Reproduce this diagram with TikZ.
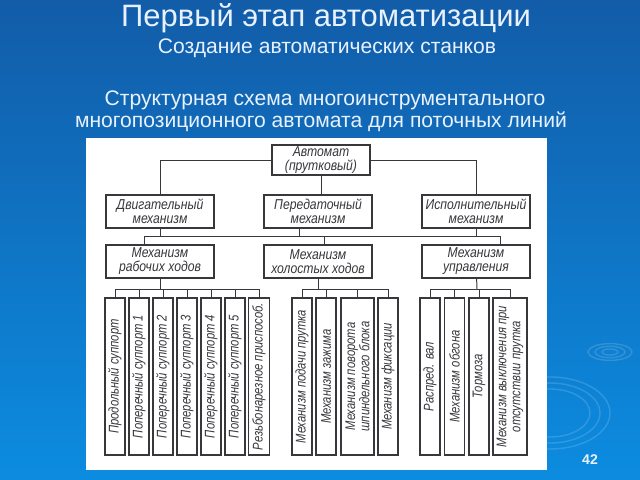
\documentclass[tikz,border=0pt]{standalone}
\usepackage{fontspec}
\setmainfont{Liberation Sans}
\newfontfamily\schemefont[FakeStretch=0.85]{Liberation Sans}
\newfontfamily\leaffont[FakeStretch=0.8]{Liberation Sans}
\definecolor{bgtop}{RGB}{18,92,168}
\definecolor{bgmid}{RGB}{10,102,178}
\definecolor{bgbot}{RGB}{12,140,224}
\definecolor{titlecol}{RGB}{232,242,255}
\definecolor{linecol}{RGB}{55,55,60}

\begin{document}
\begin{tikzpicture}[x=0.025cm,y=-0.025cm,
    box/.style={draw=linecol,line width=0.8pt,fill=white,text=linecol,
      font=\schemefont\itshape\fontsize{10.2}{10}\selectfont,align=center,
      minimum width=2.7cm,minimum height=0.825cm,inner sep=1pt},
    leaf/.style={box,rotate=90,minimum width=3.925cm,
      font=\leaffont\itshape\fontsize{10}{10}\selectfont},
    wire/.style={draw=linecol,line width=0.7pt},
    heading/.style={text=titlecol,anchor=base}]

    % background of the slide
    \shade[top color=bgtop,middle color=bgmid,bottom color=bgbot] (0,0) rectangle (640,480);
    \useasboundingbox (0,0) rectangle (640,480);
    \begin{scope}[white,opacity=0.15,line width=1pt]
        \foreach \r in {8,15,22}
            \draw (610,352) ellipse ({\r} and {\r*0.38});
        \foreach \r in {40,50,60}
            \draw (550,413) ellipse ({\r} and {\r*0.6});
    \end{scope}
    \fill[white] (86,138) rectangle (547,470);

    % headings
    \node[heading,font=\fontsize{22}{24}\selectfont] (title) at (326,27) {Первый этап автоматизации};
    \node[heading,font=\fontsize{15}{17}\selectfont] (subtitle) at (327,54) {Создание автоматических станков};
    \node[heading,font=\fontsize{15}{17}\selectfont] (line1) at (325,105) {Структурная схема многоинструментального};
    \node[heading,font=\fontsize{15}{17}\selectfont] (line2) at (321,128) {многопозиционного автомата для поточных линий};
    \node[text=titlecol,font=\bfseries\fontsize{10}{12}\selectfont] (page) at (590,460) {42};

    % upper levels
    \node[box,minimum width=2.45cm,minimum height=0.75cm] (avt) at (321,160) {Автомат\\(прутковый)};
    \node[box] (dvig) at (160,211.5) {Двигательный\\механизм};
    \node[box] (pered) at (318,211.5) {Передаточный\\механизм};
    \node[box] (isp) at (476,211.5) {Исполнительный\\механизм};
    \node[box] (rab) at (160,261.5) {Механизм\\рабочих ходов};
    \node[box] (hol) at (318,261.5) {Механизм\\холостых ходов};
    \node[box] (upr) at (476,261.5) {Механизм\\управления};

    \draw[wire] (avt) -| (dvig);
    \draw[wire] (avt) -| (isp);
    \draw[wire] (avt.south) -- (avt.south |- pered.north);

    \coordinate (busl) at (144,236);
    \coordinate (busr) at (500,236);
    \coordinate (pj) at (299,236);
    \coordinate (hj) at (324,236);
    \draw[wire] (busl) -- (busr);
    \draw[wire] (dvig) -- (dvig |- busl);
    \draw[wire] (pj) -- (pj |- pered.south);
    \draw[wire] (isp) -- (isp |- busl);
    \draw[wire] (busl) -- (busl |- rab.north);
    \draw[wire] (hj) -- (hj |- hol.north);
    \draw[wire] (busr) -- (busr |- upr.north);

    % working strokes
    \coordinate (rb) at (160,289);
    \foreach \x/\w/\t [count=\i] in {115/0.5/{Продольный суппорт},
        139/0.5/{Поперечный суппорт 1}, 163/0.5/{Поперечный суппорт 2},
        187/0.5/{Поперечный суппорт 3}, 211/0.5/{Поперечный суппорт 4},
        235/0.5/{Поперечный суппорт 5}, 259/0.525/{Резьбонарезное приспособ.}}
        \node[leaf,minimum height=\w cm] (rab\i) at (\x,376.5) {\t};
    \draw[wire] (rab) -- (rb);
    \draw[wire] (rab1 |- rb) -- (rab7 |- rb);
    \foreach \i in {1,...,7}
        \draw[wire] (rab\i |- rb) -- (rab\i);

    % idle strokes
    \coordinate (hb) at (318,289);
    \foreach \x/\w/\t [count=\i] in {302/0.5/{Механизм подачи прутка},
        326/0.5/{Механизм зажима},
        357.5/0.825/{Механизм поворота\\шпиндельного блока},
        388/0.5/{Механизм фиксации}}
        \node[leaf,minimum height=\w cm] (hol\i) at (\x,376.5) {\t};
    \draw[wire] (hol) -- (hb);
    \draw[wire] (hol1 |- hb) -- (hol4 |- hb);
    \foreach \i in {1,...,4}
        \draw[wire] (hol\i |- hb) -- (hol\i);

    % control
    \coordinate (ub) at (477,289);
    \foreach \x/\w/\t [count=\i] in {430/0.5/{Распред. вал},
        454.5/0.5/{Механизм обгона}, 479/0.5/{Тормоза},
        510/0.85/{Механизм выключения при\\отсутствии прутка}}
        \node[leaf,minimum height=\w cm] (upr\i) at (\x,376.5) {\t};
    \draw[wire] (upr) -- (ub);
    \draw[wire] (upr1 |- ub) -- (upr4 |- ub);
    \foreach \i in {1,...,4}
        \draw[wire] (upr\i |- ub) -- (upr\i);
\end{tikzpicture}
\end{document}
